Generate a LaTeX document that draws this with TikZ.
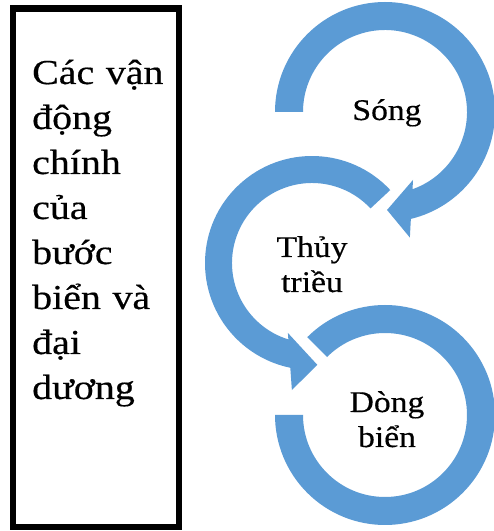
\documentclass[tikz,border=0pt]{standalone}
\usepackage{fontspec}
\setmainfont{Liberation Serif}
\newfontfamily\boxfont[FakeStretch=1.14,FakeBold=0.4]{Liberation Serif}
\newfontfamily\ringfont[FakeStretch=1.12,FakeBold=0.4]{Liberation Serif}
\definecolor{ringblue}{HTML}{5B9BD5}
\begin{document}
\begin{tikzpicture}[x=1pt,y=1pt,
  ringshape/.style={fill=ringblue, draw=none},
  boxtext/.style={font=\boxfont\fontsize{35}{45}\selectfont, text width=165pt, align=left, inner sep=0pt, anchor=base west},
  ringtext/.style={font=\ringfont\fontsize{30}{35}\selectfont, text width=110pt, align=center, inner sep=0pt, anchor=base}]
\useasboundingbox (0,0) rectangle (494,531);
\fill[white] (0,0) rectangle (494,531);
% left box
\draw[line width=6.5pt] (13,4) rectangle (179,522.5);
\node[boxtext] (title) at (32,447) {Các vận\\động\\chính\\của\\bước\\biển và\\đại\\dương};
% ring 1: Song
\begin{scope}[shift={(385,419)}]
\fill[ringshape] (180:110) arc[start angle=180,end angle=-76.4,radius=110]
  -- (-78.8:128) -- (-88.8:98) -- (-67.6:73.5) -- (-70.4:82)
  arc[start angle=-70.4,end angle=180,radius=82] -- cycle;
\end{scope}
% ring 2: Thuy trieu
\begin{scope}[shift={(312,268)}]
\fill[ringshape] (43:107) arc[start angle=43,end angle=258.3,radius=107]
  -- (261:128.6) -- (273:102) -- (251:74) -- (252.8:80)
  arc[start angle=252.8,end angle=43,radius=80] -- cycle;
\end{scope}
% ring 3: Dong bien
\begin{scope}[shift={(385,116)}]
\fill[ringshape] (135:110) arc[start angle=135,end angle=-180,radius=110]
  -- (180:82) arc[start angle=-180,end angle=135,radius=82] -- cycle;
\end{scope}
\node[ringtext] (song) at (387,411) {Sóng};
\node[ringtext] (thuy) at (312,274) {Thủy\\triều};
\node[ringtext] (dong) at (387,119) {Dòng\\biển};
\end{tikzpicture}
\end{document}
